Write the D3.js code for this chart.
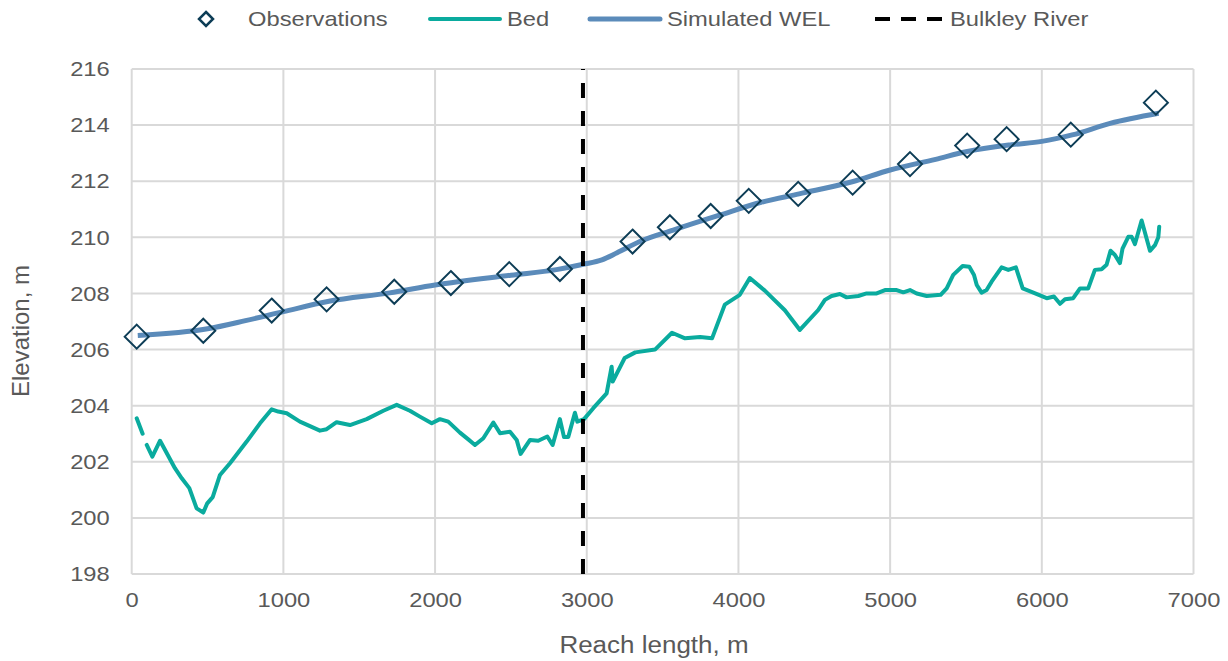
<!DOCTYPE html>
<html>
<head>
<meta charset="utf-8">
<script src="https://cdn.jsdelivr.net/npm/d3@7"></script>
<style>
  html, body { margin: 0; padding: 0; background: #fff; }
  svg { display: block; font-family: "Liberation Sans", Arial, sans-serif; }
</style>
</head>
<body>
<svg id="chart" width="1228" height="661"></svg>
<script>
// Observed water surface elevations along the reach
const obsDist = [33, 472, 923, 1285, 1731, 2104, 2489, 2823, 3302, 3548, 3817, 4068, 4394, 4753, 5131, 5508, 5768, 6191, 6752];
const obsElev = [206.46, 206.67, 207.39, 207.79, 208.06, 208.37, 208.69, 208.87, 209.85, 210.36, 210.76, 211.3, 211.55, 211.95, 212.61, 213.27, 213.5, 213.66, 214.8];

// Bed profile (null marks a gap in the survey)
const bedDist = [33, 72, 85, 99, 136, 187, 285, 330, 380, 428, 472, 498, 534, 582, 648, 758, 846, 923, 966, 1022,
  1109, 1241, 1285, 1351, 1439, 1549, 1659, 1747, 1834, 1900, 1978, 2032, 2087, 2164, 2219, 2263, 2318, 2384, 2428, 2494,
  2538, 2564, 2626, 2680, 2740, 2775, 2823, 2850, 2878, 2922, 2938, 2982, 3043, 3131, 3164, 3171, 3250, 3320, 3450, 3562,
  3648, 3747, 3826, 3910, 4009, 4075, 4174, 4306, 4405, 4526, 4570, 4614, 4669, 4713, 4790, 4845, 4911, 4966, 5043, 5087,
  5131, 5175, 5241, 5333, 5373, 5416, 5478, 5522, 5553, 5571, 5603, 5636, 5669, 5735, 5779, 5829, 5874, 5944, 6032, 6080,
  6120, 6153, 6207, 6252, 6306, 6350, 6394, 6427, 6453, 6482, 6515, 6532, 6570, 6592, 6614, 6658, 6713, 6746, 6768, 6774];
const bedElev = [203.55, 203.0, null, 202.6, 202.18, 202.75, 201.77, 201.41, 201.06, 200.34, 200.19, 200.52, 200.74, 201.53, 201.95, 202.72, 203.37, 203.87, 203.79, 203.73,
  203.43, 203.11, 203.16, 203.41, 203.31, 203.52, 203.82, 204.03, 203.82, 203.61, 203.37, 203.52, 203.43, 203.04, 202.8, 202.6, 202.84, 203.4, 203.02, 203.07,
  202.78, 202.28, 202.78, 202.75, 202.9, 202.6, 203.52, 202.88, 202.88, 203.75, 203.43, 203.52, 203.91, 204.44, 205.39, 204.86, 205.7, 205.9, 206.0, 206.6,
  206.4, 206.45, 206.4, 207.6, 207.95, 208.55, 208.1, 207.4, 206.7, 207.41, 207.77, 207.91, 207.98, 207.86, 207.91, 208.0, 208.0, 208.12, 208.12, 208.04,
  208.12, 208.0, 207.91, 207.95, 208.18, 208.66, 208.98, 208.95, 208.66, 208.3, 208.03, 208.12, 208.42, 208.93, 208.84, 208.93, 208.18, 208.03, 207.83, 207.89,
  207.63, 207.79, 207.83, 208.18, 208.18, 208.84, 208.86, 209.02, 209.52, 209.37, 209.08, 209.6, 210.02, 210.02, 209.76, 210.6, 209.52, 209.72, 210.0, 210.38];

// Simulated water elevation line
const welDist = [40, 500, 750, 1000, 1300, 1700, 2000, 2500, 2800, 2977, 3100, 3200, 3350, 3570, 3880, 4150, 4400, 4750, 5000, 5300, 5500, 5800, 6000, 6200, 6450, 6770];
const welElev = [206.5, 206.74, 207.03, 207.35, 207.72, 208.02, 208.3, 208.65, 208.85, 209.04, 209.2, 209.45, 209.85, 210.26, 210.8, 211.25, 211.55, 211.98, 212.4, 212.78, 213.05, 213.3, 213.42, 213.65, 214.06, 214.42];

// Confluence with the Bulkley River
const bulkleyDist = [2975, 2975];
const bulkleyElev = [198, 216];

const xTicks = [0, 1000, 2000, 3000, 4000, 5000, 6000, 7000];
const yTicks = [198, 200, 202, 204, 206, 208, 210, 212, 214, 216];

const legendLabels = ["Observations", "Bed", "Simulated WEL", "Bulkley River"];

const colors = { obs: "#0d3d56", bed: "#0aab9e", wel: "#5b8bba", river: "#000000", grid: "#d9d9d9", text: "#595959" };
const stretch = 1.13; // slightly wide lettering

const svg = d3.select("#chart");
const x = d3.scaleLinear().domain([0, 7000]).range([131.7, 1193.5]);
const y = d3.scaleLinear().domain([198, 216]).range([574, 69]);

// Gridlines
const grid = svg.append("g");
grid.selectAll(".gx").data(xTicks).join("line")
  .attr("x1", d => x(d)).attr("x2", d => x(d))
  .attr("y1", y(198)).attr("y2", y(216))
  .attr("stroke", colors.grid).attr("stroke-width", 2);
grid.selectAll(".gy").data(yTicks).join("line")
  .attr("x1", x(0)).attr("x2", x(7000))
  .attr("y1", d => y(d)).attr("y2", d => y(d))
  .attr("stroke", colors.grid).attr("stroke-width", 2);

// Axes (labels only; the frame comes from the gridlines)
const xAxis = svg.append("g").attr("transform", `translate(0,${y(198)})`)
  .call(d3.axisBottom(x).tickValues(xTicks).tickSize(0).tickPadding(18).tickFormat(d3.format("d")));
const yAxis = svg.append("g").attr("transform", `translate(${x(0)},0)`)
  .call(d3.axisLeft(y).tickValues(yTicks).tickSize(0).tickPadding(22).tickFormat(d3.format("d")));
[xAxis, yAxis].forEach(a => {
  a.select(".domain").remove();
  a.selectAll("text").attr("fill", colors.text).style("font-size", "21px")
    .style("font-family", "'Liberation Sans', Arial, sans-serif");
});
xAxis.selectAll("text").attr("transform", `scale(${stretch},1)`);
yAxis.selectAll("text").attr("x", -22 / stretch).attr("transform", `scale(${stretch},1)`);

// Axis titles
svg.append("text").attr("transform", `translate(654,653) scale(${stretch},1)`)
  .attr("text-anchor", "middle").attr("fill", colors.text).style("font-size", "23px")
  .text("Reach length, m");
svg.append("text").attr("transform", `translate(29,331) rotate(-90)`)
  .attr("text-anchor", "middle").attr("fill", colors.text).style("font-size", "24px")
  .text("Elevation, m");

// Bed profile
const bedData = bedDist.map((d, i) => ({ x: d, y: bedElev[i] }));
svg.append("path").datum(bedData)
  .attr("d", d3.line().defined(d => d.y !== null).x(d => x(d.x)).y(d => y(d.y)))
  .attr("fill", "none").attr("stroke", colors.bed).attr("stroke-width", 4)
  .attr("stroke-linejoin", "round").attr("stroke-linecap", "round");

// Simulated WEL
const welData = welDist.map((d, i) => ({ x: d, y: welElev[i] }));
svg.append("path").datum(welData)
  .attr("d", d3.line().curve(d3.curveMonotoneX).x(d => x(d.x)).y(d => y(d.y)))
  .attr("fill", "none").attr("stroke", colors.wel).attr("stroke-width", 5)
  .attr("stroke-linejoin", "round");

// Bulkley River
const riverData = bulkleyDist.map((d, i) => ({ x: d, y: bulkleyElev[i] }));
svg.append("path").datum(riverData)
  .attr("d", d3.line().x(d => x(d.x)).y(d => y(d.y)))
  .attr("fill", "none").attr("stroke", colors.river).attr("stroke-width", 4)
  .attr("stroke-dasharray", "15,13");

// Observations (diamonds)
const diamond = (cx, cy, r) => `M${cx},${cy - r}L${cx + r},${cy}L${cx},${cy + r}L${cx - r},${cy}Z`;
svg.append("g").selectAll("path").data(obsDist.map((d, i) => ({ x: d, y: obsElev[i] })))
  .join("path")
  .attr("d", d => diamond(x(d.x), y(d.y), 12))
  .attr("fill", "none").attr("stroke", colors.obs).attr("stroke-width", 2);

// Legend
const lg = svg.append("g");
const ly = 19;
lg.append("path").attr("d", diamond(206, ly, 7)).attr("fill", "none").attr("stroke", colors.obs).attr("stroke-width", 2.5);
lg.append("line").attr("x1", 430).attr("x2", 500).attr("y1", ly).attr("y2", ly).attr("stroke", colors.bed).attr("stroke-width", 4).attr("stroke-linecap", "round");
lg.append("line").attr("x1", 590).attr("x2", 660).attr("y1", ly).attr("y2", ly).attr("stroke", colors.wel).attr("stroke-width", 5).attr("stroke-linecap", "round");
lg.append("line").attr("x1", 875).attr("x2", 947).attr("y1", ly).attr("y2", ly).attr("stroke", colors.river).attr("stroke-width", 4).attr("stroke-dasharray", "15,11");
const legendX = [248, 507, 667, 950];
lg.selectAll("text").data(legendLabels).join("text")
  .attr("transform", (d, i) => `translate(${legendX[i]},${ly}) scale(${stretch},1)`)
  .attr("dy", "0.35em")
  .attr("fill", colors.text).style("font-size", "21px")
  .text(d => d);
</script>
</body>
</html>
